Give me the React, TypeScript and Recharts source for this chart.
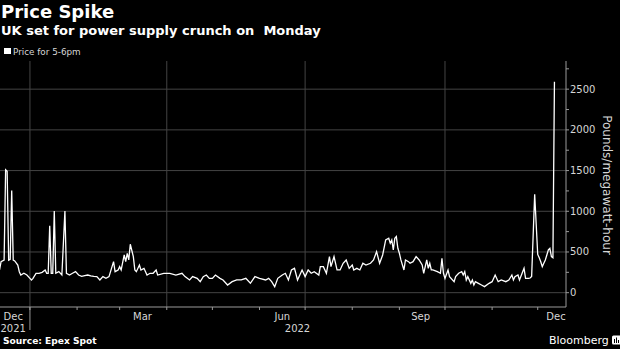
import { LineChart, Line, XAxis, YAxis, ReferenceLine } from "recharts"

// days counted from 1 Jan 2022 (negative = Dec 2021)
const days = [
  -20, -19, -17, -16, -15, -14, -13, -12, -11, -10, -8, -7, -6, -4, -2, 0, 1, 2, 4, 6, 8, 10, 11, 12, 13, 14, 15, 16, 17, 19,
  21, 23, 24, 26, 28, 30, 32, 34, 36, 38, 40, 42, 44, 46, 48, 50, 52, 55, 56, 58, 59, 60, 62, 63, 64, 65, 66, 68, 69, 70,
  72, 73, 75, 77, 79, 81, 83, 84, 88, 92, 96, 100, 102, 105, 107, 110, 112, 114, 116, 118, 120, 122, 125, 127, 130, 133, 136, 139, 142, 145,
  148, 151, 155, 157, 159, 161, 163, 166, 168, 170, 172, 174, 176, 179, 181, 183, 185, 187, 190, 191, 193, 195, 197, 198, 200, 202, 204, 206, 208, 210,
  212, 213, 215, 217, 219, 221, 224, 226, 228, 230, 232, 234, 236, 237, 238, 239, 240, 241, 242, 243, 244, 246, 247, 249, 250, 252, 254, 256, 258, 259,
  261, 262, 263, 264, 265, 268, 270, 271, 272, 273, 275, 276, 279, 280, 282, 284, 285, 286, 287, 288, 290, 291, 292, 293, 295, 297, 299, 302, 304, 306,
  308, 310, 313, 315, 317, 318, 319, 321, 322, 325, 326, 328, 329, 330, 332, 334, 335, 336, 337, 338, 339, 340, 341, 342, 343, 344, 345,
]

const prices = [
  280, 380, 400, 1510, 1490, 400, 410, 1255, 400, 390, 340, 258, 217, 238, 217, 176, 156, 176, 238, 238, 250, 279, 238, 238, 823, 238, 238, 1003, 238, 258,
  217, 1003, 238, 217, 238, 258, 217, 200, 210, 217, 205, 200, 197, 156, 197, 176, 197, 381, 258, 279, 320, 279, 463, 381, 484, 402, 595, 443, 279, 258,
  340, 279, 299, 217, 238, 238, 279, 217, 238, 238, 217, 238, 197, 156, 197, 176, 135, 197, 217, 176, 176, 217, 176, 156, 94, 135, 156, 156, 176, 115,
  197, 176, 156, 176, 135, 74, 176, 217, 238, 156, 279, 299, 156, 279, 197, 279, 238, 258, 217, 320, 320, 238, 443, 320, 443, 279, 279, 361, 402, 299,
  340, 279, 299, 279, 361, 340, 361, 402, 504, 361, 463, 648, 668, 607, 648, 525, 668, 689, 545, 484, 402, 279, 402, 381, 361, 381, 443, 402, 340, 238,
  402, 299, 361, 279, 279, 258, 238, 422, 238, 176, 279, 197, 135, 197, 238, 258, 217, 258, 156, 197, 115, 156, 94, 135, 115, 94, 74, 115, 135, 217,
  135, 156, 135, 156, 217, 156, 197, 217, 156, 299, 176, 176, 180, 200, 1210, 470, 430, 380, 320, 361, 402, 463, 525, 545, 443, 430, 2590,
]

const monthStarts = [0, 31, 59, 90, 120, 151, 181, 212, 243, 273, 304, 334]
const quarterStarts = [0, 90, 181, 273]
const monthLabels = ["Dec", "Mar", "Jun", "Sep", "Dec"]
const monthLabelDays = [-11, 74, 166, 257, 346]
const yearLabels = ["2021", "2022"]
const yearLabelDays = [-11, 176]
const gridValues = [0, 500, 1000, 1500, 2000, 2500]
const yTicks = [0, 250, 500, 750, 1000, 1250, 1500, 1750, 2000, 2250, 2500, 2750]

const data = days.map((d, i) => ({ day: d, price: prices[i] }))

const font = "DejaVu Sans"
const axisColor = "#9a9a9a"
const gridColor = "#444"
const labelColor = "#d6d6d6"

const YTick = ({ x, y, payload }: any) => {
  const major = payload.value % 500 === 0
  return (
    <g>
      <line x1={x} x2={x + 3} y1={y} y2={y} stroke={axisColor} />
      {major && (
        <text x={x + 4} y={y + 3.5} fill={labelColor} fontSize={10} fontFamily={font}>
          {payload.value}
        </text>
      )}
    </g>
  )
}

const XTick = ({ x, y, payload }: any) => {
  const v = payload.value
  const li = monthLabelDays.indexOf(v)
  const yi = yearLabelDays.indexOf(v)
  return (
    <g>
      {monthStarts.includes(v) && <line x1={x} x2={x} y1={y} y2={y + 3} stroke={axisColor} />}
      {v === 0 && <line x1={x} x2={x} y1={y} y2={y + 23} stroke={axisColor} />}
      {li >= 0 && (
        <text x={x} y={y + 12.5} textAnchor="middle" fill={labelColor} fontSize={10} fontFamily={font}>
          {monthLabels[li]}
        </text>
      )}
      {yi >= 0 && (
        <text x={x} y={y + 24.5} textAnchor="middle" fill={labelColor} fontSize={10} fontFamily={font}>
          {yearLabels[yi]}
        </text>
      )}
    </g>
  )
}

export default function App() {
  const xTicks = [...monthStarts, ...monthLabelDays, 176]
  return (
    <div style={{ position: "absolute", left: 0, top: 0, width: 620, height: 349, background: "#000", overflow: "hidden" }}>
      <LineChart width={620} height={349} data={data} margin={{ top: 61, right: 0, bottom: 0, left: 0 }}>
        {quarterStarts.map((d) => (
          <ReferenceLine key={"v" + d} x={d} stroke={gridColor} strokeWidth={1} />
        ))}
        {gridValues.map((v) => (
          <ReferenceLine key={"h" + v} y={v} stroke={gridColor} strokeWidth={1} />
        ))}
        <XAxis
          dataKey="day"
          type="number"
          domain={[-19.7, 352.6]}
          allowDataOverflow
          ticks={xTicks}
          interval={0}
          tick={<XTick />}
          tickLine={false}
          tickSize={0}
          tickMargin={0}
          height={42}
          axisLine={{ stroke: axisColor }}
        />
        <YAxis
          orientation="right"
          type="number"
          domain={[-176, 2846]}
          allowDataOverflow
          ticks={yTicks}
          interval={0}
          tick={<YTick />}
          tickLine={false}
          tickSize={0}
          tickMargin={0}
          width={54}
          axisLine={{ stroke: axisColor }}
        />
        <Line type="linear" dataKey="price" stroke="#fff" strokeWidth={1.3} dot={false} isAnimationActive={false} />
      </LineChart>
      <svg width={620} height={349} style={{ position: "absolute", left: 0, top: 0, pointerEvents: "none" }}>
        <text x={1} y={18} fill="#fff" fontSize={18} fontWeight="bold" fontFamily={font}>Price Spike</text>
        <text x={1} y={35} fill="#fff" fontSize={13} fontWeight="bold" fontFamily={font} style={{ whiteSpace: "pre" }}>
          UK set for power supply crunch on  Monday
        </text>
        <rect x={4} y={48} width={7} height={6} fill="#fff" />
        <text x={13} y={54.5} fill={labelColor} fontSize={8.8} fontFamily={font}>Price for 5-6pm</text>
        <text x={0} y={0} transform="translate(603,185) rotate(90)" textAnchor="middle" fill={labelColor} fontSize={12} fontFamily={font}>
          Pounds/megawatt-hour
        </text>
        <text x={3} y={344} fill="#fff" fontSize={9.1} fontWeight="bold" fontFamily={font}>Source: Epex Spot</text>
        <text x={549} y={343.5} fill="#fff" fontSize={11} fontFamily={font}>Bloomberg</text>
        <rect x={612} y={335.5} width={9} height={9} rx={1.5} fill="#fff" />
        <line x1={614.5} x2={614.5} y1={339} y2={343} stroke="#000" strokeWidth={1} />
        <line x1={616.5} x2={616.5} y1={337.5} y2={343} stroke="#000" strokeWidth={1} />
        <line x1={618.5} x2={618.5} y1={340} y2={343} stroke="#000" strokeWidth={1} />
      </svg>
    </div>
  )
}
